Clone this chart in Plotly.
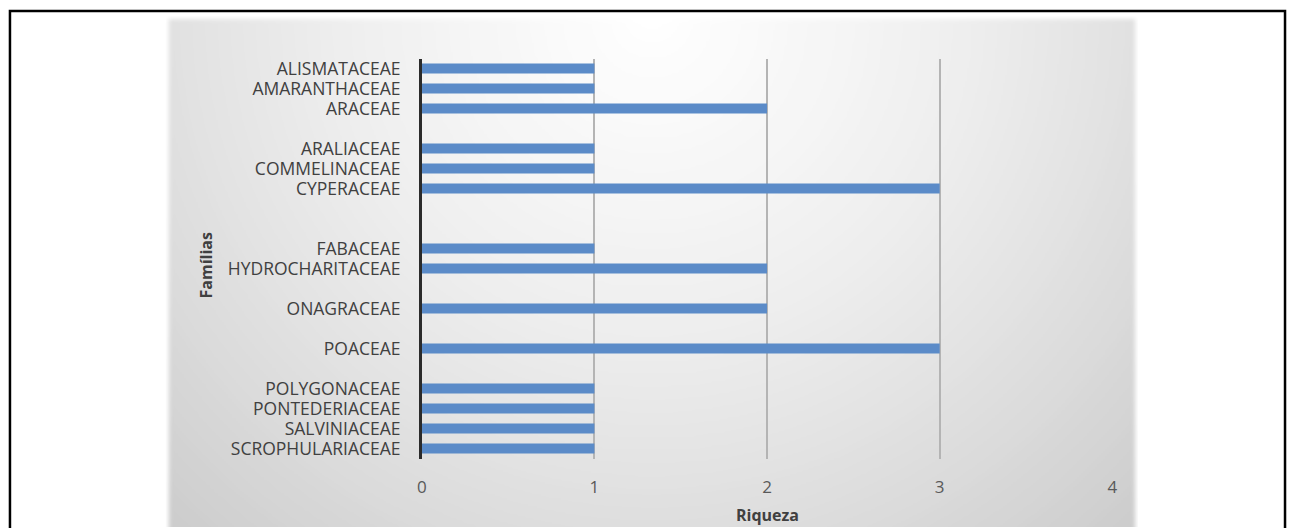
import base64
import plotly.graph_objects as go

W, H = 1293, 528

# ---- data ----
families = ["ALISMATACEAE", "AMARANTHACEAE", "ARACEAE", " ",
            "ARALIACEAE", "COMMELINACEAE", "CYPERACEAE", "  ", "   ",
            "FABACEAE", "HYDROCHARITACEAE", "    ", "ONAGRACEAE", "     ",
            "POACEAE", "      ", "POLYGONACEAE", "PONTEDERIACEAE",
            "SALVINIACEAE", "SCROPHULARIACEAE"]
riqueza = [1, 1, 2, None, 1, 1, 3, None, None, 1, 2, None, 2, None,
           3, None, 1, 1, 1, 1]
x_ticks = [0, 1, 2, 3, 4]

x_title = "Riqueza"
y_title = "Famílias"

# ---- layout geometry (pixels) ----
panel_l, panel_r, panel_t = 162, 1142, 13
plot_l, plot_r, plot_t, plot_b = 420, 1116, 56, 459
pw, ph = panel_r - panel_l, H - panel_t

# radial-gradient panel as an inline SVG image (no network needed)
svg = f'''<svg xmlns="http://www.w3.org/2000/svg" width="{pw}" height="{ph}">
<defs>
<radialGradient id="g" gradientUnits="userSpaceOnUse" cx="{pw/2}" cy="0" r="720">
<stop offset="0" stop-color="#ffffff"/>
<stop offset="0.4" stop-color="#f0f0f0"/>
<stop offset="0.72" stop-color="#dedede"/>
<stop offset="1" stop-color="#cbcbcb"/>
</radialGradient>
<filter id="b" x="-5%" y="-5%" width="110%" height="110%">
<feGaussianBlur stdDeviation="2"/>
</filter>
</defs>
<rect x="3" y="3" width="{pw-6}" height="{ph+20}" fill="url(#g)" filter="url(#b)"/>
</svg>'''
svg_uri = "data:image/svg+xml;base64," + base64.b64encode(svg.encode()).decode()

fig = go.Figure()

fig.add_trace(go.Bar(
    x=riqueza, y=families, orientation="h",
    marker=dict(color="#5B8BC8", line=dict(width=0)),
    showlegend=False))

fig.update_layout(
    width=W, height=H,
    margin=dict(l=0, r=0, t=0, b=0),
    paper_bgcolor="white", plot_bgcolor="rgba(0,0,0,0)",
    bargap=0.5,
    font=dict(family="Open Sans", color="#404040"),
    xaxis=dict(domain=[plot_l / W, plot_r / W],
               range=[0, 4], tickmode="array", tickvals=x_ticks,
               showgrid=True, gridcolor="#b4b4b4", gridwidth=1.5,
               zeroline=False, showline=False, ticks="",
               tickfont=dict(size=17, color="#595959"),
               ticklabelstandoff=16),
    yaxis=dict(domain=[(H - plot_b) / H, (H - plot_t) / H],
               type="category", categoryorder="array",
               categoryarray=families, range=[len(families) - 0.5, -0.5],
               tickmode="array", tickvals=families, ticktext=families,
               showgrid=False, zeroline=False, showline=True,
               linecolor="#2b2b2b", linewidth=2.5, ticks="",
               tickfont=dict(size=17.5, color="#404040"),
               ticklabelstandoff=15),
    images=[dict(source=svg_uri, xref="paper", yref="paper",
                 x=panel_l / W, y=1 - panel_t / H,
                 sizex=pw / W, sizey=ph / H,
                 xanchor="left", yanchor="top", sizing="stretch",
                 layer="below")],
    annotations=[
        dict(text="<b>" + x_title + "</b>", xref="paper", yref="paper",
             x=(plot_l + plot_r) / 2 / W, y=1 - 516 / H,
             showarrow=False, font=dict(size=16, color="#404040"),
             xanchor="center", yanchor="middle"),
        dict(text="<b>" + y_title + "</b>", xref="paper", yref="paper",
             x=203 / W, y=1 - 264 / H, textangle=-90,
             showarrow=False, font=dict(size=16, color="#404040"),
             xanchor="center", yanchor="middle"),
    ],
    shapes=[
        dict(type="rect", xref="paper", yref="paper",
             x0=5 / W, x1=1290 / W, y0=-0.05, y1=1 - 8 / H,
             line=dict(color="black", width=2.5), layer="above"),
    ],
)

fig.write_html("out.html",
               config={"displayModeBar": False},
               post_script="document.body.style.margin='0';"
                           "document.body.style.overflow='hidden';")
